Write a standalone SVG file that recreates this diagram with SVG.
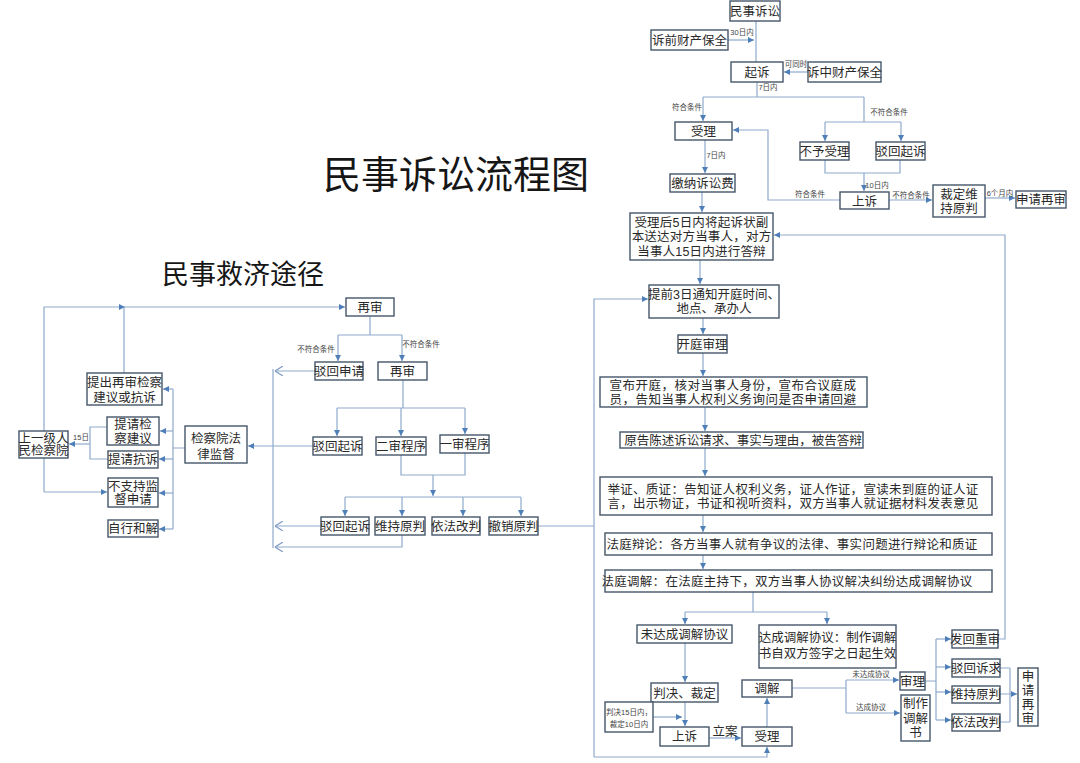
<svg xmlns="http://www.w3.org/2000/svg" width="1080" height="763" viewBox="0 0 1080 763">
<style>
.b{fill:#fff;stroke:#46566a;stroke-width:1.4}
.t{font-family:"Liberation Sans","Noto Sans CJK SC",sans-serif;font-size:12.5px;fill:#2a2a2a;text-anchor:middle}
.s{font-family:"Liberation Sans","Noto Sans CJK SC",sans-serif;font-size:7.5px;fill:#444;text-anchor:middle}
.c{fill:none;stroke:#8faacb;stroke-width:1.2}
.ti{font-family:"Noto Sans CJK SC","Noto Sans",sans-serif;fill:#161616}
</style>
<defs>
<marker id="a" viewBox="0 0 6 6" refX="6" refY="3" markerWidth="6" markerHeight="6" markerUnits="userSpaceOnUse" orient="auto"><path d="M0,0 L6,3 L0,6 z" fill="#4f7fb8"/></marker>
<marker id="o" viewBox="0 0 8 10" refX="8" refY="5" markerWidth="8" markerHeight="10" markerUnits="userSpaceOnUse" orient="auto"><path d="M0,0 L8,5 L0,10" fill="none" stroke="#7f9cc4" stroke-width="1.2"/></marker>
</defs>
<rect width="1080" height="763" fill="#fff"/>
<text class="ti" x="323" y="188" font-size="38">民事诉讼流程图</text>
<text class="ti" x="162" y="284" font-size="27">民事救济途径</text>

<g id="connectors">
<path class="c" d="M756,21 V62"/>
<path class="c" d="M728,40 H754" marker-end="url(#a)"/>
<text class="s" x="742" y="35">30日内</text>
<path class="c" d="M808,72 H784" marker-end="url(#a)"/>
<text class="s" x="796" y="67">可同时</text>
<path class="c" d="M757,82 V97 M703,97 H864"/>
<text class="s" x="768" y="90">7日内</text>
<path class="c" d="M703,97 V121" marker-end="url(#a)"/>
<text class="s" x="687" y="110">符合条件</text>
<path class="c" d="M864,97 V122 M825,122 H901"/>
<text class="s" x="889" y="115">不符合条件</text>
<path class="c" d="M825,122 V141" marker-end="url(#a)"/>
<path class="c" d="M901,122 V141" marker-end="url(#a)"/>
<path class="c" d="M705,140 V173" marker-end="url(#a)"/>
<text class="s" x="716" y="158">7日内</text>
<path class="c" d="M825,160 V173 H900 V160"/>
<path class="c" d="M864,173 V191" marker-end="url(#a)"/>
<text class="s" x="877" y="188">10日内</text>
<path class="c" d="M840,200 H768 V130 H733" marker-end="url(#a)"/>
<text class="s" x="810" y="197">符合条件</text>
<path class="c" d="M889,200 H932" marker-end="url(#a)"/>
<text class="s" x="911" y="198">不符合条件</text>
<path class="c" d="M985,198 H1015" marker-end="url(#a)"/>
<text class="s" x="1000" y="196">6个月内</text>
<path class="c" d="M702,192 V212" marker-end="url(#a)"/>
<path class="c" d="M700,260 V284" marker-end="url(#a)"/>
<path class="c" d="M703,318 V334" marker-end="url(#a)"/>
<path class="c" d="M703,353 V376" marker-end="url(#a)"/>
<path class="c" d="M705,407 V431" marker-end="url(#a)"/>
<path class="c" d="M705,448 V476" marker-end="url(#a)"/>
<path class="c" d="M703,515 V532" marker-end="url(#a)"/>
<path class="c" d="M703,555 V569" marker-end="url(#a)"/>
<path class="c" d="M753,592 V612 M685,612 H827"/>
<path class="c" d="M685,612 V624" marker-end="url(#a)"/>
<path class="c" d="M827,612 V624" marker-end="url(#a)"/>
<path class="c" d="M685,643 V682" marker-end="url(#a)"/>
<path class="c" d="M685,702 V726" marker-end="url(#a)"/>
<path class="c" d="M653,717 H682" marker-end="url(#a)"/>
<path class="c" d="M709,738 H741" marker-end="url(#a)"/>
<text class="t" x="725" y="736" font-size="12">立案</text>
<path class="c" d="M767,727 V698" marker-end="url(#a)"/>
<path class="c" d="M792,688 H846 M846,680 V713"/>
<path class="c" d="M846,680 H899" marker-end="url(#a)"/>
<path class="c" d="M846,713 H900" marker-end="url(#a)"/>
<text class="s" x="871" y="677">未达成协议</text>
<text class="s" x="871" y="710">达成协议</text>
<path class="c" d="M925,681 H936 M936,639 V720"/>
<path class="c" d="M936,639 H951" marker-end="url(#a)"/>
<path class="c" d="M936,667 H951" marker-end="url(#a)"/>
<path class="c" d="M936,692 H951" marker-end="url(#a)"/>
<path class="c" d="M936,720 H951" marker-end="url(#a)"/>
<path class="c" d="M998,639 H1005 V235 H774" marker-end="url(#a)"/>
<path class="c" d="M1000,668 H1010 M1000,694 H1010 M1000,722 H1010 M1010,668 V722"/>
<path class="c" d="M1010,694 H1017" marker-end="url(#a)"/>
<path class="c" d="M538,526 H594"/>
<path class="c" d="M594,757 V299 H648" marker-end="url(#a)"/>
<path class="c" d="M594,757 H767 V747" marker-end="url(#a)"/>

<path class="c" d="M44,492 V307 H125" marker-end="url(#a)"/>
<path class="c" d="M124,373 V307 H345" marker-end="url(#a)"/>
<path class="c" d="M44,492 H107" marker-end="url(#a)"/>
<path class="c" d="M107,427 H90 V459 H108"/>
<path class="c" d="M90,444 H69" marker-end="url(#a)"/>
<text class="s" x="81" y="440">15日</text>
<path class="c" d="M185,448 H173 M173,389 V529"/>
<path class="c" d="M173,389 H163" marker-end="url(#a)"/>
<path class="c" d="M173,431 H160" marker-end="url(#a)"/>
<path class="c" d="M173,459 H159" marker-end="url(#a)"/>
<path class="c" d="M173,493 H159" marker-end="url(#a)"/>
<path class="c" d="M173,529 H159" marker-end="url(#a)"/>
<path class="c" d="M313,446 H248" marker-end="url(#a)"/>
<path class="c" d="M370,316 V335 M338,335 H402"/>
<path class="c" d="M338,335 V361" marker-end="url(#a)"/>
<path class="c" d="M402,335 V361" marker-end="url(#a)"/>
<text class="s" x="316" y="352">不符合条件</text>
<text class="s" x="421" y="347">不符合条件</text>
<path class="c" d="M315,371 H275" marker-end="url(#o)"/>
<path class="c" d="M273,369 V548"/>
<path class="c" d="M403,380 V408 M337,408 H465"/>
<path class="c" d="M337,408 V436" marker-end="url(#a)"/>
<path class="c" d="M401,408 V436" marker-end="url(#a)"/>
<path class="c" d="M465,408 V434" marker-end="url(#a)"/>
<path class="c" d="M401,455 V475 H465 V453"/>
<path class="c" d="M433,475 V496" marker-end="url(#a)"/>
<path class="c" d="M345,497 H521"/>
<path class="c" d="M345,497 V516" marker-end="url(#a)"/>
<path class="c" d="M402,497 V516" marker-end="url(#a)"/>
<path class="c" d="M463,497 V516" marker-end="url(#a)"/>
<path class="c" d="M521,497 V516" marker-end="url(#a)"/>
<path class="c" d="M321,526 H275" marker-end="url(#o)"/>
<path class="c" d="M402,535 V547 H275" marker-end="url(#o)"/>
</g>

<g id="n_msss"><rect class="b" x="730" y="1" width="50" height="20"/><text class="t" x="755" y="16">民事诉讼</text></g>
<g id="n_sqcc"><rect class="b" x="651" y="30" width="77" height="20"/><text class="t" x="689.5" y="45">诉前财产保全</text></g>
<g id="n_qs"><rect class="b" x="731" y="62" width="52" height="20"/><text class="t" x="757" y="77">起诉</text></g>
<g id="n_szcc"><rect class="b" x="808" y="62" width="73" height="20"/><text class="t" x="844.5" y="77">诉中财产保全</text></g>
<g id="n_sl"><rect class="b" x="675" y="122" width="57" height="18"/><text class="t" x="703.5" y="136">受理</text></g>
<g id="n_jn"><rect class="b" x="670" y="174" width="65" height="18"/><text class="t" x="702.5" y="188">缴纳诉讼费</text></g>
<g id="n_bysl"><rect class="b" x="800" y="142" width="49" height="18"/><text class="t" x="824.5" y="156">不予受理</text></g>
<g id="n_bhqs"><rect class="b" x="876" y="142" width="49" height="18"/><text class="t" x="900.5" y="156">驳回起诉</text></g>
<g id="n_ss"><rect class="b" x="840" y="192" width="49" height="17"/><text class="t" x="864.5" y="205.5">上诉</text></g>
<g id="n_cdwc"><rect class="b" x="933" y="185" width="52" height="32"/><text class="t" x="959" y="198.5"><tspan x="959">裁定维</tspan><tspan x="959" dy="14.5">持原判</tspan></text></g>
<g id="n_sqzs"><rect class="b" x="1016" y="191" width="50" height="17"/><text class="t" x="1041" y="204">申请再审</text></g>
<g id="n_sd"><rect class="b" x="630" y="213" width="143" height="47"/><text class="t" x="701.5" y="226.5" letter-spacing="0.2"><tspan x="701.5">受理后5日内将起诉状副</tspan><tspan x="701.5" dy="14.5">本送达对方当事人，对方</tspan><tspan x="701.5" dy="14.5">当事人15日内进行答辩</tspan></text></g>
<g id="n_tq"><rect class="b" x="649" y="285" width="130" height="33"/><text class="t" x="714" y="298.5"><tspan x="714">提前3日通知开庭时间、</tspan><tspan x="714" dy="14.5">地点、承办人</tspan></text></g>
<g id="n_ktsl"><rect class="b" x="678" y="335" width="49" height="18"/><text class="t" x="702.5" y="349">开庭审理</text></g>
<g id="n_xb"><rect class="b" x="600" y="377" width="267" height="30"/><text class="t" x="733" y="390" font-size="12" letter-spacing="0.5"><tspan x="733">宣布开庭，核对当事人身份，宣布合议庭成</tspan><tspan x="733" dy="13.5">员，告知当事人权利义务询问是否申请回避</tspan></text></g>
<g id="n_yg"><rect class="b" x="620" y="432" width="243" height="16"/><text class="t" x="743" y="444.5" font-size="12">原告陈述诉讼请求、事实与理由，被告答辩</text></g>
<g id="n_jz"><rect class="b" x="600" y="477" width="392" height="38"/><text class="t" x="793" y="493.5" font-size="12" letter-spacing="0.3"><tspan x="793">举证、质证：告知证人权利义务，证人作证，宣读未到庭的证人证</tspan><tspan x="793" dy="14.5">言，出示物证，书证和视听资料，双方当事人就证据材料发表意见</tspan></text></g>
<g id="n_fb"><rect class="b" x="605" y="533" width="387" height="22"/><text class="t" x="792" y="548.5" font-size="12" letter-spacing="0.3">法庭辩论：各方当事人就有争议的法律、事实问题进行辩论和质证</text></g>
<g id="n_ft"><rect class="b" x="605" y="570" width="387" height="22"/><text class="t" x="787" y="586" font-size="12" letter-spacing="0.3">法庭调解：在法庭主持下，双方当事人协议解决纠纷达成调解协议</text></g>
<g id="n_wdc"><rect class="b" x="637" y="625" width="95" height="18"/><text class="t" x="684.5" y="639">未达成调解协议</text></g>
<g id="n_dc"><rect class="b" x="759" y="625" width="137" height="43"/><text class="t" x="827.5" y="642"><tspan x="827.5">达成调解协议：制作调解</tspan><tspan x="827.5" dy="16">书自双方签字之日起生效</tspan></text></g>
<g id="n_pj"><rect class="b" x="651" y="683" width="67" height="19"/><text class="t" x="684.5" y="697.5">判决、裁定</text></g>
<g id="n_pj15"><rect class="b" x="605" y="702" width="48" height="30"/><text class="s" x="629" y="715"><tspan x="629">判决15日内，</tspan><tspan x="629" dy="12">裁定10日内</tspan></text></g>
<g id="n_ss2"><rect class="b" x="660" y="727" width="49" height="19"/><text class="t" x="684.5" y="741">上诉</text></g>
<g id="n_sl2"><rect class="b" x="742" y="727" width="50" height="19"/><text class="t" x="767" y="741">受理</text></g>
<g id="n_tj"><rect class="b" x="742" y="680" width="50" height="17"/><text class="t" x="767" y="693">调解</text></g>
<g id="n_sl3"><rect class="b" x="900" y="672" width="25" height="18"/><text class="t" x="912.5" y="686" font-size="12">审理</text></g>
<g id="n_zz"><rect class="b" x="901" y="695" width="29" height="46"/><text class="t" x="915.5" y="708" font-size="12"><tspan x="915.5">制作</tspan><tspan x="915.5" dy="14.5">调解</tspan><tspan x="915.5" dy="14.5">书</tspan></text></g>
<g id="n_fh"><rect class="b" x="952" y="630" width="46" height="18"/><text class="t" x="975" y="644" font-size="12">发回重审</text></g>
<g id="n_bhsq"><rect class="b" x="952" y="659" width="48" height="18"/><text class="t" x="976" y="673">驳回诉求</text></g>
<g id="n_wc"><rect class="b" x="952" y="686" width="48" height="17"/><text class="t" x="976" y="699">维持原判</text></g>
<g id="n_yf"><rect class="b" x="952" y="714" width="48" height="17"/><text class="t" x="976" y="727">依法改判</text></g>
<g id="n_sqzs2"><rect class="b" x="1018" y="668" width="20" height="58"/><text class="t" x="1028" y="681" font-size="12"><tspan x="1028">申</tspan><tspan x="1028" dy="14">请</tspan><tspan x="1028" dy="14">再</tspan><tspan x="1028" dy="14">审</tspan></text></g>

<g id="n_zs1"><rect class="b" x="346" y="298" width="48" height="18"/><text class="t" x="370" y="312">再审</text></g>
<g id="n_bhsq2"><rect class="b" x="315" y="362" width="48" height="18"/><text class="t" x="339" y="376">驳回申请</text></g>
<g id="n_zs2"><rect class="b" x="378" y="362" width="49" height="18"/><text class="t" x="402.5" y="376">再审</text></g>
<g id="n_bhqs2"><rect class="b" x="313" y="437" width="49" height="18"/><text class="t" x="337.5" y="451">驳回起诉</text></g>
<g id="n_es"><rect class="b" x="376" y="437" width="50" height="18"/><text class="t" x="401" y="451">二审程序</text></g>
<g id="n_ys"><rect class="b" x="440" y="435" width="49" height="18"/><text class="t" x="464.5" y="449">一审程序</text></g>
<g id="n_bhqs3"><rect class="b" x="321" y="517" width="48" height="18"/><text class="t" x="345" y="531">驳回起诉</text></g>
<g id="n_wc2"><rect class="b" x="375" y="517" width="50" height="18"/><text class="t" x="400" y="531">维持原判</text></g>
<g id="n_yf2"><rect class="b" x="432" y="517" width="48" height="18"/><text class="t" x="456" y="531">依法改判</text></g>
<g id="n_cx"><rect class="b" x="489" y="517" width="49" height="18"/><text class="t" x="513.5" y="531">撤销原判</text></g>
<g id="n_jcy"><rect class="b" x="185" y="426" width="62" height="37"/><text class="t" x="216" y="443"><tspan x="216">检察院法</tspan><tspan x="216" dy="15.5">律监督</tspan></text></g>
<g id="n_tc"><rect class="b" x="87" y="373" width="75" height="32"/><text class="t" x="124.5" y="387" font-size="12"><tspan x="124.5">提出再审检察</tspan><tspan x="124.5" dy="14.5">建议或抗诉</tspan></text></g>
<g id="n_tqjc"><rect class="b" x="107" y="417" width="52" height="28"/><text class="t" x="133" y="429" font-size="12"><tspan x="133">提请检</tspan><tspan x="133" dy="13.5">察建议</tspan></text></g>
<g id="n_tqks"><rect class="b" x="108" y="451" width="50" height="17"/><text class="t" x="133" y="464">提请抗诉</text></g>
<g id="n_bzc"><rect class="b" x="108" y="478" width="50" height="29"/><text class="t" x="133" y="490.5" font-size="12"><tspan x="133">不支持监</tspan><tspan x="133" dy="13.5">督申请</tspan></text></g>
<g id="n_zxhj"><rect class="b" x="108" y="520" width="50" height="17"/><text class="t" x="133" y="533">自行和解</text></g>
<g id="n_syj"><rect class="b" x="19" y="431" width="49" height="27"/><text class="t" x="43.5" y="442.5" font-size="11.5"><tspan x="43.5">上一级人</tspan><tspan x="43.5" dy="12.5">民检察院</tspan></text></g>
</svg>
